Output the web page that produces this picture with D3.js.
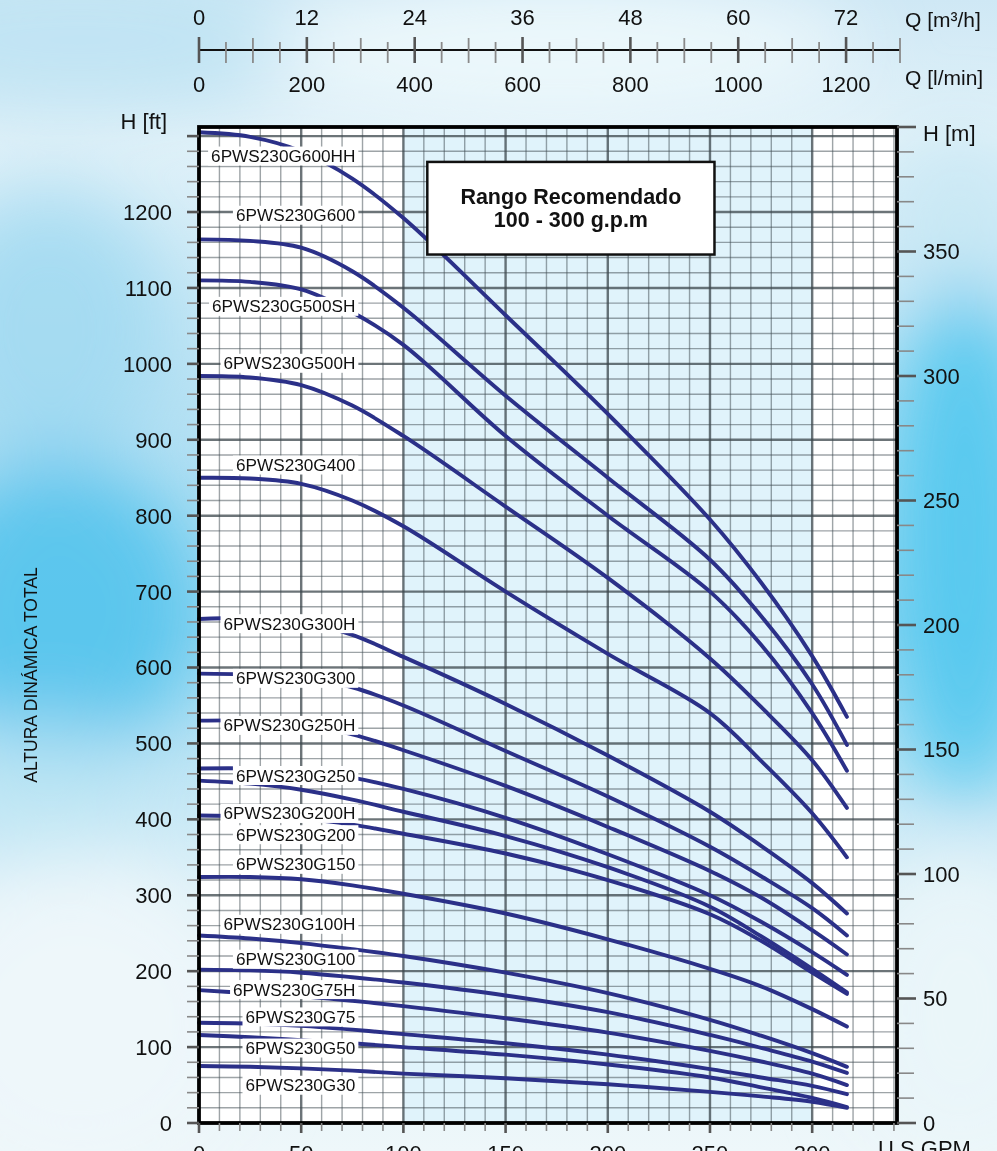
<!DOCTYPE html>
<html><head><meta charset="utf-8">
<script src="https://cdn.jsdelivr.net/npm/d3@7"></script>
<style>
html,body{margin:0;padding:0;background:#fff;}
svg{display:block;font-family:"Liberation Sans",Arial,Helvetica,sans-serif;}
</style>
</head><body>
<svg id="chart" width="997" height="1151"></svg>
<script>
// ---------------- DATA ----------------
const flowGpm = [0, 25, 50, 75, 100, 150, 200, 250, 275, 300, 317];
const head600HH = [1305, 1299, 1280, 1244, 1192, 1064, 934, 795, 712, 615, 535];
const head600   = [1164, 1162, 1153, 1122, 1074, 958, 850, 742, 668, 578, 498];
const head500SH = [1110, 1108, 1098, 1068, 1025, 905, 800, 700, 630, 540, 464];
const head500H  = [984, 982, 972, 945, 905, 812, 718, 612, 548, 478, 415];
const head400   = [850, 849, 842, 820, 786, 700, 618, 540, 477, 408, 350];
const head300H  = [664, 665, 661, 643, 614, 552, 484, 410, 365, 316, 276];
const head300   = [592, 591, 588, 574, 550, 490, 430, 364, 325, 283, 247];
const head250H  = [530, 530, 526, 512, 491, 444, 390, 332, 297, 254, 222];
const head250   = [467, 467, 464, 455, 440, 402, 354, 300, 265, 225, 195];
const head200H  = [451, 447, 439, 426, 410, 378, 337, 285, 246, 203, 172];
const head200   = [405, 404, 401, 393, 381, 355, 320, 275, 240, 198, 170];
const head150   = [324, 324, 321, 313, 302, 276, 242, 203, 180, 150, 127];
const head100H  = [247, 243, 237, 229, 220, 198, 171, 136, 115, 92, 74];
const head100   = [202, 201, 198, 192, 185, 168, 146, 116, 99, 81, 66];
const head75H   = [175, 171, 167, 161, 154, 138, 119, 95, 81, 65, 50];
const head75    = [132, 131, 128, 123, 117, 105, 90, 71, 60, 49, 38];
const head50    = [116, 113, 109, 105, 100, 90, 77, 60, 47, 33, 21];
const head30    = [75, 74, 72, 69, 65, 59, 51, 41, 35, 28, 20];

const modelNames = ["6PWS230G600HH","6PWS230G600","6PWS230G500SH","6PWS230G500H","6PWS230G400",
  "6PWS230G300H","6PWS230G300","6PWS230G250H","6PWS230G250","6PWS230G200H","6PWS230G200",
  "6PWS230G150","6PWS230G100H","6PWS230G100","6PWS230G75H","6PWS230G75","6PWS230G50","6PWS230G30"];
const modelHeads = [head600HH, head600, head500SH, head500H, head400, head300H, head300, head250H,
  head250, head200H, head200, head150, head100H, head100, head75H, head75, head50, head30];
// head (ft) at which each model's label sits
const labelHead = [1274, 1196, 1076, 1001, 867, 658, 586, 524, 458, 408, 380, 341, 262, 216, 176, 140, 99, 50];

const ftTicks = [0,100,200,300,400,500,600,700,800,900,1000,1100,1200];
const mTicks = [0,50,100,150,200,250,300,350];
const gpmTicks = [0,50,100,150,200,250,300];
const m3hTicks = [0,12,24,36,48,60,72];
const lminTicks = [0,200,400,600,800,1000,1200];
const recommendedRange = [100, 300];

// ---------------- SCALES ----------------
const svg = d3.select("#chart");
const x = d3.scaleLinear().domain([0, 341.5]).range([199, 897]);
const y = d3.scaleLinear().domain([0, 1312]).range([1123, 127]);
const yM = d3.scaleLinear().domain([0, 400]).range([1123, 127]);
const q = d3.scaleLinear().domain([0, 1300]).range([199, 900]); // l/min

// ---------------- BACKGROUND ----------------
const defs = svg.append("defs");
const lg = defs.append("linearGradient").attr("id","bgGrad").attr("x1",0).attr("y1",0).attr("x2",0).attr("y2",1);
[[0,"#cfe8f5"],[0.12,"#e2f2f9"],[0.35,"#b8e2f4"],[0.55,"#9fdaf2"],[0.78,"#dcf0f8"],[1,"#eef7fa"]]
  .forEach(([o,c]) => lg.append("stop").attr("offset",o).attr("stop-color",c));
const blur = defs.append("filter").attr("id","blur").attr("x","-50%").attr("y","-50%").attr("width","200%").attr("height","200%");
blur.append("feGaussianBlur").attr("stdDeviation",38);

svg.append("rect").attr("width",997).attr("height",1151).attr("fill","url(#bgGrad)");
const blobs = svg.append("g").attr("filter","url(#blur)");
[
  [80,40,260,70,"#bfe3f3",0.9],
  [560,50,300,70,"#eef8fc",0.9],
  [50,330,120,140,"#9ed8f0",0.8],
  [60,610,140,150,"#4fc2ec",0.85],
  [40,790,110,70,"#bde6f4",0.7],
  [80,1020,170,160,"#eef7fa",0.95],
  [960,220,80,90,"#c7e7f4",0.8],
  [965,540,80,260,"#50c7ee",0.9],
  [960,1010,110,150,"#eaf5f9",0.95]
].forEach(([cx,cy,rx,ry,c,o]) => blobs.append("ellipse").attr("cx",cx).attr("cy",cy).attr("rx",rx).attr("ry",ry).attr("fill",c).attr("opacity",o));

// ---------------- PLOT AREA ----------------
svg.append("rect").attr("x",x(0)).attr("y",y(1312)).attr("width",x(341.5)-x(0)).attr("height",y(0)-y(1312)).attr("fill","#ffffff");
svg.append("rect").attr("x",x(recommendedRange[0])).attr("y",y(1312))
  .attr("width",x(recommendedRange[1])-x(recommendedRange[0])).attr("height",y(0)-y(1312)).attr("fill","#e0f3fb");

const grid = svg.append("g");
const minorX = d3.range(10, 341, 10).filter(v => v % 50 !== 0);
const majorX = d3.range(50, 341, 50);
const minorY = d3.range(20, 1312, 20).filter(v => v % 100 !== 0);
const majorY = d3.range(100, 1312, 100);
grid.selectAll(".gx").data(minorX).join("line")
  .attr("x1",d=>x(d)).attr("x2",d=>x(d)).attr("y1",y(0)).attr("y2",y(1312))
  .attr("stroke","#3d4a50").attr("stroke-opacity",0.5).attr("stroke-width",1.4);
grid.selectAll(".gy").data(minorY).join("line")
  .attr("x1",x(0)).attr("x2",x(341.5)).attr("y1",d=>y(d)).attr("y2",d=>y(d))
  .attr("stroke","#3d4a50").attr("stroke-opacity",0.5).attr("stroke-width",1.4);
grid.selectAll(".gX").data(majorX).join("line")
  .attr("x1",d=>x(d)).attr("x2",d=>x(d)).attr("y1",y(0)).attr("y2",y(1312))
  .attr("stroke","#3b464b").attr("stroke-opacity",0.75).attr("stroke-width",2.4);
grid.selectAll(".gY").data(majorY).join("line")
  .attr("x1",x(0)).attr("x2",x(341.5)).attr("y1",d=>y(d)).attr("y2",d=>y(d))
  .attr("stroke","#3b464b").attr("stroke-opacity",0.75).attr("stroke-width",2.4);

// ---------------- CURVES ----------------
const line = d3.line().x(d=>x(d[0])).y(d=>y(d[1])).curve(d3.curveCatmullRom.alpha(0.5));
const series = modelNames.map((n,i) => ({name:n, pts: flowGpm.map((f,j)=>[f, modelHeads[i][j]]), lh: labelHead[i]}));
svg.append("g").selectAll("path").data(series).join("path")
  .attr("d", d=>line(d.pts)).attr("fill","none")
  .attr("stroke","#2b3088").attr("stroke-width",3.9).attr("stroke-linecap","round");

// ---------------- CURVE LABELS ----------------
const labG = svg.append("g");
series.forEach(s => {
  const g = labG.append("g");
  const t = g.append("text").attr("x", x(76.5)).attr("y", y(s.lh)).attr("dy","0.36em")
    .attr("text-anchor","end").attr("font-size",17.2).attr("fill","#111").text(s.name);
  const bb = t.node().getBBox();
  g.insert("rect","text").attr("x",bb.x-3).attr("y",bb.y+0.5).attr("width",bb.width+6).attr("height",bb.height-1).attr("fill","#fff");
});

// ---------------- RECOMMENDED BOX ----------------
const bx0 = x(111.7), bx1 = x(252.2), by0 = y(1266), by1 = y(1144);
svg.append("rect").attr("x",bx0).attr("y",by0).attr("width",bx1-bx0).attr("height",by1-by0)
  .attr("fill","#fff").attr("stroke","#111").attr("stroke-width",2.5);
svg.append("text").attr("x",(bx0+bx1)/2).attr("y",204).attr("text-anchor","middle")
  .attr("font-size",21.5).attr("font-weight","bold").attr("fill","#111").text("Rango Recomendado");
svg.append("text").attr("x",(bx0+bx1)/2).attr("y",227).attr("text-anchor","middle")
  .attr("font-size",21.5).attr("font-weight","bold").attr("fill","#111").text("100 - 300 g.p.m");

// ---------------- FRAME ----------------
svg.append("rect").attr("x",x(0)).attr("y",y(1312)).attr("width",x(341.5)-x(0)).attr("height",y(0)-y(1312))
  .attr("fill","none").attr("stroke","#000").attr("stroke-width",3.8);

// ---------------- AXES ----------------
const fs = 22;
const leftTicks = d3.range(0, 1312, 20);
svg.append("g").selectAll("line").data(leftTicks).join("line")
  .attr("x1",187).attr("x2",x(0)).attr("y1",d=>y(d)).attr("y2",d=>y(d))
  .attr("stroke",d=>d%100===0?"#555":"#888").attr("stroke-width",d=>d%100===0?2.6:1.6);
svg.append("g").selectAll("text").data(ftTicks).join("text")
  .attr("x",172).attr("y",d=>y(d)).attr("dy","0.36em").attr("text-anchor","end")
  .attr("font-size",fs).attr("fill","#111").text(d=>d);
svg.append("text").attr("x",167).attr("y",129).attr("text-anchor","end").attr("font-size",fs).attr("fill","#111").text("H [ft]");

const rightTicks = d3.range(0, 401, 10);
svg.append("g").selectAll("line").data(rightTicks).join("line")
  .attr("x1",x(341.5)).attr("x2",d=>d%50===0?916:914).attr("y1",d=>yM(d)).attr("y2",d=>yM(d))
  .attr("stroke",d=>d%50===0?"#555":"#888").attr("stroke-width",d=>d%50===0?2.6:1.6);
svg.append("g").selectAll("text").data(mTicks).join("text")
  .attr("x",923).attr("y",d=>yM(d)).attr("dy","0.36em").attr("text-anchor","start")
  .attr("font-size",fs).attr("fill","#111").text(d=>d);
svg.append("text").attr("x",923).attr("y",141).attr("font-size",fs).attr("fill","#111").text("H [m]");

const botTicks = d3.range(0, 341, 10);
svg.append("g").selectAll("line").data(botTicks).join("line")
  .attr("x1",d=>x(d)).attr("x2",d=>x(d)).attr("y1",y(0)).attr("y2",d=>d%50===0?1133:1131)
  .attr("stroke",d=>d%50===0?"#555":"#888").attr("stroke-width",d=>d%50===0?2.6:1.6);
svg.append("g").selectAll("text").data(gpmTicks).join("text")
  .attr("x",d=>x(d)).attr("y",1161).attr("text-anchor","middle")
  .attr("font-size",fs).attr("fill","#111").text(d=>d);
svg.append("text").attr("x",878).attr("y",1156).attr("font-size",fs).attr("fill","#111").text("U.S GPM");

svg.append("text").attr("transform","translate(37,675) rotate(-90)").attr("text-anchor","middle")
  .attr("font-size",17.5).attr("fill","#111").text("ALTURA DINÁMICA TOTAL");

svg.append("line").attr("x1",q(0)).attr("x2",q(1300)).attr("y1",50).attr("y2",50).attr("stroke","#111").attr("stroke-width",2);
const topTicks = d3.range(0, 1301, 50);
svg.append("g").selectAll("line").data(topTicks).join("line")
  .attr("x1",d=>q(d)).attr("x2",d=>q(d))
  .attr("y1",d=>d%200===0?37:(d%100===0?38:42)).attr("y2",63)
  .attr("stroke",d=>d%200===0?"#555":"#8a8a8a").attr("stroke-width",d=>d%200===0?2.6:1.8);
svg.append("g").selectAll("text").data(m3hTicks).join("text")
  .attr("x",d=>q(d*1000/60)).attr("y",25).attr("text-anchor","middle")
  .attr("font-size",fs).attr("fill","#111").text(d=>d);
svg.append("g").selectAll("text").data(lminTicks).join("text")
  .attr("x",d=>q(d)).attr("y",92).attr("text-anchor","middle")
  .attr("font-size",fs).attr("fill","#111").text(d=>d);
svg.append("text").attr("x",905).attr("y",27).attr("font-size",fs-1).attr("fill","#111").text("Q [m³/h]");
svg.append("text").attr("x",905).attr("y",85).attr("font-size",fs-1).attr("fill","#111").text("Q [l/min]");
</script>
</body></html>
